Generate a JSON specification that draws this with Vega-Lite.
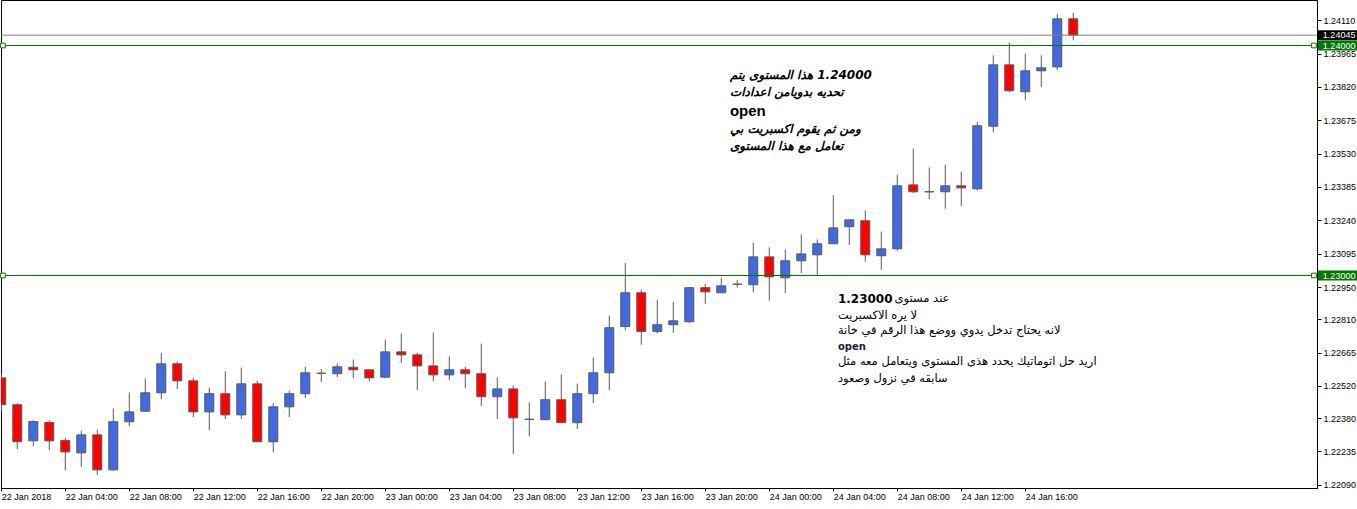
{
  "$schema": "https://vega.github.io/schema/vega-lite/v6.json",
  "width": 1316,
  "height": 488,
  "autosize": {"type": "none"},
  "padding": {"left": 1, "top": 0, "right": 40, "bottom": 21},
  "background": "white",
  "config": {"view": {"stroke": "black", "strokeWidth": 1}, "scale": {"continuousPadding": 0}},
  "datasets": {
    "candles": [
      {"t": "2018-01-22T00:00:00", "o": 1.22555, "h": 1.22574, "l": 1.22409, "c": 1.22438},
      {"t": "2018-01-22T01:00:00", "o": 1.22438, "h": 1.22445, "l": 1.22245, "c": 1.22277},
      {"t": "2018-01-22T02:00:00", "o": 1.22281, "h": 1.22370, "l": 1.22258, "c": 1.22365},
      {"t": "2018-01-22T03:00:00", "o": 1.22361, "h": 1.22370, "l": 1.22240, "c": 1.22281},
      {"t": "2018-01-22T04:00:00", "o": 1.22283, "h": 1.22293, "l": 1.22153, "c": 1.22233},
      {"t": "2018-01-22T05:00:00", "o": 1.22229, "h": 1.22326, "l": 1.22167, "c": 1.22307},
      {"t": "2018-01-22T06:00:00", "o": 1.22307, "h": 1.22330, "l": 1.22132, "c": 1.22155},
      {"t": "2018-01-22T07:00:00", "o": 1.22155, "h": 1.22422, "l": 1.22151, "c": 1.22364},
      {"t": "2018-01-22T08:00:00", "o": 1.22364, "h": 1.22491, "l": 1.22345, "c": 1.22407},
      {"t": "2018-01-22T09:00:00", "o": 1.22410, "h": 1.22552, "l": 1.22408, "c": 1.22490},
      {"t": "2018-01-22T10:00:00", "o": 1.22490, "h": 1.22664, "l": 1.22462, "c": 1.22616},
      {"t": "2018-01-22T11:00:00", "o": 1.22616, "h": 1.22626, "l": 1.22506, "c": 1.22542},
      {"t": "2018-01-22T12:00:00", "o": 1.22542, "h": 1.22555, "l": 1.22384, "c": 1.22407},
      {"t": "2018-01-22T13:00:00", "o": 1.22407, "h": 1.22513, "l": 1.22327, "c": 1.22486},
      {"t": "2018-01-22T14:00:00", "o": 1.22486, "h": 1.22583, "l": 1.22375, "c": 1.22394},
      {"t": "2018-01-22T15:00:00", "o": 1.22394, "h": 1.22600, "l": 1.22375, "c": 1.22529},
      {"t": "2018-01-22T16:00:00", "o": 1.22529, "h": 1.22542, "l": 1.22277, "c": 1.22277},
      {"t": "2018-01-22T17:00:00", "o": 1.22277, "h": 1.22445, "l": 1.22232, "c": 1.22429},
      {"t": "2018-01-22T18:00:00", "o": 1.22429, "h": 1.22500, "l": 1.22384, "c": 1.22486},
      {"t": "2018-01-22T19:00:00", "o": 1.22486, "h": 1.22604, "l": 1.22467, "c": 1.22577},
      {"t": "2018-01-22T20:00:00", "o": 1.22575, "h": 1.22594, "l": 1.22536, "c": 1.22575},
      {"t": "2018-01-22T21:00:00", "o": 1.22573, "h": 1.22617, "l": 1.22558, "c": 1.22603},
      {"t": "2018-01-22T22:00:00", "o": 1.22601, "h": 1.22635, "l": 1.22553, "c": 1.22590},
      {"t": "2018-01-22T23:00:00", "o": 1.22590, "h": 1.22590, "l": 1.22540, "c": 1.22555},
      {"t": "2018-01-23T00:00:00", "o": 1.22558, "h": 1.22722, "l": 1.22553, "c": 1.22668},
      {"t": "2018-01-23T01:00:00", "o": 1.22668, "h": 1.22748, "l": 1.22619, "c": 1.22655},
      {"t": "2018-01-23T02:00:00", "o": 1.22655, "h": 1.22664, "l": 1.22501, "c": 1.22607},
      {"t": "2018-01-23T03:00:00", "o": 1.22607, "h": 1.22752, "l": 1.22540, "c": 1.22568},
      {"t": "2018-01-23T04:00:00", "o": 1.22568, "h": 1.22648, "l": 1.22545, "c": 1.22590},
      {"t": "2018-01-23T05:00:00", "o": 1.22590, "h": 1.22604, "l": 1.22510, "c": 1.22573},
      {"t": "2018-01-23T06:00:00", "o": 1.22573, "h": 1.22704, "l": 1.22432, "c": 1.22473},
      {"t": "2018-01-23T07:00:00", "o": 1.22473, "h": 1.22557, "l": 1.22375, "c": 1.22507},
      {"t": "2018-01-23T08:00:00", "o": 1.22507, "h": 1.22522, "l": 1.22223, "c": 1.22381},
      {"t": "2018-01-23T09:00:00", "o": 1.22375, "h": 1.22448, "l": 1.22301, "c": 1.22375},
      {"t": "2018-01-23T10:00:00", "o": 1.22373, "h": 1.22539, "l": 1.22372, "c": 1.22460},
      {"t": "2018-01-23T11:00:00", "o": 1.22460, "h": 1.22570, "l": 1.22360, "c": 1.22360},
      {"t": "2018-01-23T12:00:00", "o": 1.22360, "h": 1.22530, "l": 1.22333, "c": 1.22486},
      {"t": "2018-01-23T13:00:00", "o": 1.22486, "h": 1.22643, "l": 1.22445, "c": 1.22577},
      {"t": "2018-01-23T14:00:00", "o": 1.22577, "h": 1.22826, "l": 1.22501, "c": 1.22773},
      {"t": "2018-01-23T15:00:00", "o": 1.22778, "h": 1.23055, "l": 1.22761, "c": 1.22925},
      {"t": "2018-01-23T16:00:00", "o": 1.22925, "h": 1.22938, "l": 1.22699, "c": 1.22757},
      {"t": "2018-01-23T17:00:00", "o": 1.22757, "h": 1.22894, "l": 1.22748, "c": 1.22786},
      {"t": "2018-01-23T18:00:00", "o": 1.22786, "h": 1.22886, "l": 1.22751, "c": 1.22803},
      {"t": "2018-01-23T19:00:00", "o": 1.22799, "h": 1.22947, "l": 1.22794, "c": 1.22947},
      {"t": "2018-01-23T20:00:00", "o": 1.22947, "h": 1.22964, "l": 1.22877, "c": 1.22929},
      {"t": "2018-01-23T21:00:00", "o": 1.22925, "h": 1.22990, "l": 1.22925, "c": 1.22955},
      {"t": "2018-01-23T22:00:00", "o": 1.22962, "h": 1.22981, "l": 1.22947, "c": 1.22962},
      {"t": "2018-01-23T23:00:00", "o": 1.22960, "h": 1.23143, "l": 1.22927, "c": 1.23081},
      {"t": "2018-01-24T00:00:00", "o": 1.23081, "h": 1.23122, "l": 1.22891, "c": 1.22994},
      {"t": "2018-01-24T01:00:00", "o": 1.22990, "h": 1.23113, "l": 1.22923, "c": 1.23064},
      {"t": "2018-01-24T02:00:00", "o": 1.23064, "h": 1.23178, "l": 1.23010, "c": 1.23094},
      {"t": "2018-01-24T03:00:00", "o": 1.23090, "h": 1.23157, "l": 1.22999, "c": 1.23138},
      {"t": "2018-01-24T04:00:00", "o": 1.23138, "h": 1.23349, "l": 1.23138, "c": 1.23207},
      {"t": "2018-01-24T05:00:00", "o": 1.23212, "h": 1.23242, "l": 1.23133, "c": 1.23242},
      {"t": "2018-01-24T06:00:00", "o": 1.23238, "h": 1.23283, "l": 1.23060, "c": 1.23090},
      {"t": "2018-01-24T07:00:00", "o": 1.23086, "h": 1.23191, "l": 1.23025, "c": 1.23116},
      {"t": "2018-01-24T08:00:00", "o": 1.23116, "h": 1.23439, "l": 1.23107, "c": 1.23390},
      {"t": "2018-01-24T09:00:00", "o": 1.23394, "h": 1.23552, "l": 1.23358, "c": 1.23364},
      {"t": "2018-01-24T10:00:00", "o": 1.23364, "h": 1.23470, "l": 1.23332, "c": 1.23364},
      {"t": "2018-01-24T11:00:00", "o": 1.23364, "h": 1.23481, "l": 1.23290, "c": 1.23390},
      {"t": "2018-01-24T12:00:00", "o": 1.23390, "h": 1.23451, "l": 1.23301, "c": 1.23381},
      {"t": "2018-01-24T13:00:00", "o": 1.23377, "h": 1.23668, "l": 1.23370, "c": 1.23651},
      {"t": "2018-01-24T14:00:00", "o": 1.23649, "h": 1.23957, "l": 1.23623, "c": 1.23916},
      {"t": "2018-01-24T15:00:00", "o": 1.23916, "h": 1.24013, "l": 1.23797, "c": 1.23803},
      {"t": "2018-01-24T16:00:00", "o": 1.23799, "h": 1.23965, "l": 1.23764, "c": 1.23890},
      {"t": "2018-01-24T17:00:00", "o": 1.23890, "h": 1.23957, "l": 1.23819, "c": 1.23903},
      {"t": "2018-01-24T18:00:00", "o": 1.23907, "h": 1.24138, "l": 1.23894, "c": 1.24116},
      {"t": "2018-01-24T19:00:00", "o": 1.24116, "h": 1.24142, "l": 1.24023, "c": 1.24045}
    ],
    "levels": [
      {"p": 1.24045, "kind": "price", "label": "1.24045"},
      {"p": 1.24000, "kind": "level", "label": "1.24000"},
      {"p": 1.23000, "kind": "level", "label": "1.23000"}
    ],
    "notes": [
      {"t": "2018-01-23T21:32:30", "p": 1.23870, "style": "bi", "text": "\u200f1.24000 هذا المستوى يتم"},
      {"t": "2018-01-23T21:32:30", "p": 1.23796, "style": "bi", "text": "تحديه بدويامن اعدادات"},
      {"t": "2018-01-23T21:32:30", "p": 1.23717, "style": "bo", "text": "open"},
      {"t": "2018-01-23T21:32:30", "p": 1.23635, "style": "bi", "text": "ومن ثم يقوم اكسبريت بي"},
      {"t": "2018-01-23T21:32:30", "p": 1.23561, "style": "bi", "text": "تعامل مع هذا المستوى"},
      {"t": "2018-01-24T04:17:20", "p": 1.22896, "style": "b", "text": "1.23000"},
      {"t": "2018-01-24T07:50:00", "p": 1.22896, "style": "r", "text": "عند مستوى"},
      {"t": "2018-01-24T04:17:20", "p": 1.22826, "style": "r", "text": "لا يره الاكسبريت"},
      {"t": "2018-01-24T04:17:20", "p": 1.22757, "style": "r", "text": "لانه يحتاج تدخل يدوي ووضع هذا الرقم في خانة"},
      {"t": "2018-01-24T04:17:20", "p": 1.22691, "style": "so", "text": "open"},
      {"t": "2018-01-24T04:17:20", "p": 1.22626, "style": "r", "text": "اريد حل اتوماتيك يحدد هذى المستوى ويتعامل معه مثل"},
      {"t": "2018-01-24T04:17:20", "p": 1.22552, "style": "r", "text": "سابقه في نزول وصعود"}
    ]
  },
  "layer": [
    {
      "data": {"name": "candles"},
      "mark": {"type": "rule", "stroke": "#5a5a5a", "strokeWidth": 1, "clip": true},
      "encoding": {
        "x": {
          "field": "t", "type": "temporal",
          "scale": {"domain": [{"year": 2018, "month": 1, "date": 21, "hours": 23, "minutes": 58, "seconds": 53}, {"year": 2018, "month": 1, "date": 25, "hours": 10, "minutes": 14, "seconds": 0}], "padding": 0, "nice": false},
          "axis": {
            "title": null, "grid": false,
            "values": [
              {"year": 2018, "month": 1, "date": 22, "hours": 0},
              {"year": 2018, "month": 1, "date": 22, "hours": 4},
              {"year": 2018, "month": 1, "date": 22, "hours": 8},
              {"year": 2018, "month": 1, "date": 22, "hours": 12},
              {"year": 2018, "month": 1, "date": 22, "hours": 16},
              {"year": 2018, "month": 1, "date": 22, "hours": 20},
              {"year": 2018, "month": 1, "date": 23, "hours": 0},
              {"year": 2018, "month": 1, "date": 23, "hours": 4},
              {"year": 2018, "month": 1, "date": 23, "hours": 8},
              {"year": 2018, "month": 1, "date": 23, "hours": 12},
              {"year": 2018, "month": 1, "date": 23, "hours": 16},
              {"year": 2018, "month": 1, "date": 23, "hours": 20},
              {"year": 2018, "month": 1, "date": 24, "hours": 0},
              {"year": 2018, "month": 1, "date": 24, "hours": 4},
              {"year": 2018, "month": 1, "date": 24, "hours": 8},
              {"year": 2018, "month": 1, "date": 24, "hours": 12},
              {"year": 2018, "month": 1, "date": 24, "hours": 16}
            ],
            "tickCount": 40,
            "labelExpr": "datum.index == 0 ? '22 Jan 2018' : timeFormat(datum.value, '%d %b %H:%M')",
            "labelAlign": "left", "labelBaseline": "top", "labelPadding": 1, "tickSize": 3,
            "labelFlush": false, "labelOverlap": false,
            "labelFont": "Liberation Sans", "labelFontSize": 9, "labelColor": "black",
            "tickColor": "black", "domainColor": "black"
          }
        },
        "y": {
          "field": "l", "type": "quantitative",
          "scale": {"domain": [1.2207609, 1.2419783], "nice": false, "zero": false, "padding": 0},
          "axis": {
            "orient": "right", "title": null, "grid": false,
            "values": [1.24110, 1.23965, 1.23820, 1.23675, 1.23530, 1.23385, 1.23240, 1.23095, 1.22950, 1.22810, 1.22665, 1.22520, 1.22380, 1.22235, 1.22090],
            "tickCount": 40,
            "format": ".5f", "tickSize": 4, "labelPadding": 2,
            "labelAlign": "left", "labelBaseline": "middle",
            "labelFlush": false, "labelOverlap": false,
            "labelFont": "Liberation Sans", "labelFontSize": 9, "labelColor": "black",
            "tickColor": "black", "domainColor": "black"
          }
        },
        "y2": {"field": "h"}
      }
    },
    {
      "data": {"name": "candles"},
      "mark": {"type": "bar", "width": 9, "stroke": "#5a5a5a", "strokeWidth": 1, "clip": true},
      "encoding": {
        "x": {"field": "t", "type": "temporal"},
        "y": {"field": "o", "type": "quantitative"},
        "y2": {"field": "c"},
        "fill": {"condition": {"test": "datum.c < datum.o", "value": "#FF0000"}, "value": "#4169E1"}
      }
    },
    {
      "data": {"name": "levels"},
      "mark": {"type": "rule", "strokeWidth": 1, "clip": true},
      "encoding": {
        "y": {"field": "p", "type": "quantitative"},
        "stroke": {"condition": {"test": "datum.kind == 'price'", "value": "#808080"}, "value": "#007800"}
      }
    },
    {
      "data": {"name": "levels"},
      "transform": [{"filter": "datum.kind == 'level'"}],
      "mark": {"type": "point", "shape": "square", "size": 22, "fill": "white", "stroke": "#007800", "strokeWidth": 1, "opacity": 1, "clip": false},
      "encoding": {
        "x": {"datum": {"year": 2018, "month": 1, "date": 22, "hours": 0, "minutes": 6, "seconds": 22}, "type": "temporal"},
        "y": {"field": "p", "type": "quantitative"}
      }
    },
    {
      "data": {"name": "levels"},
      "transform": [{"filter": "datum.kind == 'level'"}],
      "mark": {"type": "point", "shape": "square", "size": 22, "fill": "white", "stroke": "#007800", "strokeWidth": 1, "opacity": 1, "clip": false},
      "encoding": {
        "x": {"datum": {"year": 2018, "month": 1, "date": 25, "hours": 10, "minutes": 2, "seconds": 30}, "type": "temporal"},
        "y": {"field": "p", "type": "quantitative"}
      }
    },
    {
      "data": {"name": "levels"},
      "mark": {"type": "rule", "strokeWidth": 10, "strokeCap": "butt", "clip": false},
      "encoding": {
        "x": {"datum": {"year": 2018, "month": 1, "date": 25, "hours": 10, "minutes": 17, "seconds": 30}, "type": "temporal"},
        "x2": {"datum": {"year": 2018, "month": 1, "date": 25, "hours": 13, "minutes": 0, "seconds": 0}},
        "y": {"field": "p", "type": "quantitative"},
        "stroke": {"condition": {"test": "datum.kind == 'price'", "value": "#000000"}, "value": "#007800"}
      }
    },
    {
      "data": {"name": "levels"},
      "mark": {"type": "text", "align": "left", "baseline": "middle", "font": "Liberation Sans", "fontSize": 9, "fill": "white", "clip": false},
      "encoding": {
        "x": {"datum": {"year": 2018, "month": 1, "date": 25, "hours": 10, "minutes": 36, "seconds": 0}, "type": "temporal"},
        "y": {"field": "p", "type": "quantitative"},
        "text": {"field": "label"}
      }
    },
    {
      "data": {"name": "notes"},
      "transform": [{"filter": "datum.style == 'bi'"}],
      "mark": {"type": "text", "align": "left", "baseline": "middle", "font": "DejaVu Sans", "fontSize": 12, "fontWeight": "bold", "fontStyle": "italic", "fill": "black"},
      "encoding": {
        "x": {"field": "t", "type": "temporal"},
        "y": {"field": "p", "type": "quantitative"},
        "text": {"field": "text"}
      }
    },
    {
      "data": {"name": "notes"},
      "transform": [{"filter": "datum.style == 'bo'"}],
      "mark": {"type": "text", "align": "left", "baseline": "middle", "font": "Liberation Sans", "fontSize": 15, "fontWeight": "bold", "fill": "black"},
      "encoding": {
        "x": {"field": "t", "type": "temporal"},
        "y": {"field": "p", "type": "quantitative"},
        "text": {"field": "text"}
      }
    },
    {
      "data": {"name": "notes"},
      "transform": [{"filter": "datum.style == 'b'"}],
      "mark": {"type": "text", "align": "left", "baseline": "middle", "font": "DejaVu Sans", "fontSize": 12, "fontWeight": "bold", "fill": "black"},
      "encoding": {
        "x": {"field": "t", "type": "temporal"},
        "y": {"field": "p", "type": "quantitative"},
        "text": {"field": "text"}
      }
    },
    {
      "data": {"name": "notes"},
      "transform": [{"filter": "datum.style == 'r'"}],
      "mark": {"type": "text", "align": "left", "baseline": "middle", "font": "DejaVu Sans", "fontSize": 11.5, "fill": "black"},
      "encoding": {
        "x": {"field": "t", "type": "temporal"},
        "y": {"field": "p", "type": "quantitative"},
        "text": {"field": "text"}
      }
    },
    {
      "data": {"name": "notes"},
      "transform": [{"filter": "datum.style == 'so'"}],
      "mark": {"type": "text", "align": "left", "baseline": "middle", "font": "DejaVu Sans", "fontSize": 10, "fontWeight": "bold", "fill": "#1c1c3c"},
      "encoding": {
        "x": {"field": "t", "type": "temporal"},
        "y": {"field": "p", "type": "quantitative"},
        "text": {"field": "text"}
      }
    }
  ]
}
